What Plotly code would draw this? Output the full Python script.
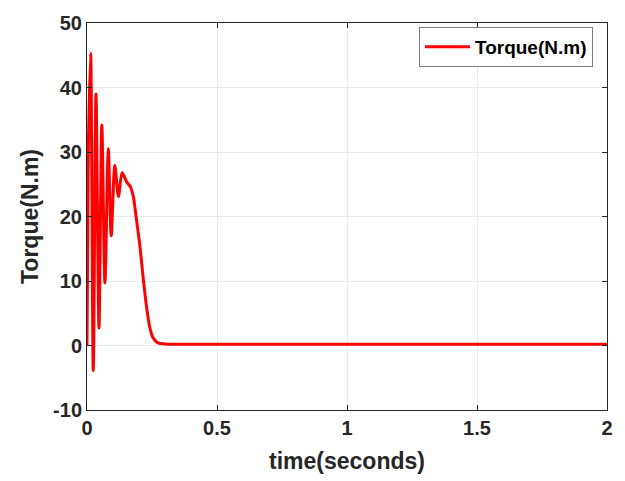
import plotly.graph_objects as go

time_s = [0.0, 0.005, 0.014, 0.024, 0.0345, 0.046, 0.057, 0.069, 0.082, 0.093, 0.107,
          0.121, 0.135, 0.152, 0.167, 0.178, 0.19, 0.203, 0.216, 0.229, 0.241, 0.254,
          0.273, 0.3, 0.5, 1.0, 1.5, 2.0]
torque = [0.0, 30.0, 45.3, -3.9, 39.0, 2.7, 34.2, 9.7, 30.5, 17.0, 27.9,
          23.1, 26.8, 25.4, 24.6, 23.1, 19.6, 15.6, 10.5, 6.0, 2.9, 1.2,
          0.4, 0.25, 0.2, 0.2, 0.2, 0.2]

x_ticks = [0, 0.5, 1, 1.5, 2]
x_labels = ["0", "0.5", "1", "1.5", "2"]
y_ticks = [-10, 0, 10, 20, 30, 40, 50]
y_labels = ["-10", "0", "10", "20", "30", "40", "50"]

fig = go.Figure()
fig.add_trace(go.Scatter(x=time_s, y=torque, mode="lines", name="<b>Torque(N.m)</b>",
                         line=dict(color="#ff0000", width=3, shape="spline", smoothing=0.8)))

axis_common = dict(showline=True, linecolor="#262626", linewidth=1, mirror="ticks",
                   ticks="inside", ticklen=5, tickcolor="#262626",
                   showgrid=True, gridcolor="#ebebeb", gridwidth=1, zeroline=False,
                   tickfont=dict(family="Liberation Sans", size=20, color="#262626"))

fig.update_layout(
    width=625, height=481,
    margin=dict(l=87, r=16, t=16, b=69),
    paper_bgcolor="white", plot_bgcolor="white",
    font=dict(family="Liberation Sans", color="#262626"),
    showlegend=True,
    legend=dict(x=0.973, y=0.99, xanchor="right", yanchor="top",
                bordercolor="#7f7f7f", borderwidth=1, bgcolor="white",
                itemwidth=45, tracegroupgap=0,
                font=dict(family="Liberation Sans", size=19, color="black")),
    xaxis=dict(range=[0, 2], tickvals=x_ticks, ticktext=["<b>%s</b>" % s for s in x_labels],
               title=dict(text="<b>time(seconds)</b>", font=dict(size=23, color="#262626"), standoff=14),
               **axis_common),
    yaxis=dict(range=[-10, 50], tickvals=y_ticks, ticktext=["<b>%s</b>" % s for s in y_labels],
               title=dict(text="<b>Torque(N.m)</b>", font=dict(size=23, color="#262626"), standoff=8),
               **axis_common),
)

fig.write_html("out.html")
